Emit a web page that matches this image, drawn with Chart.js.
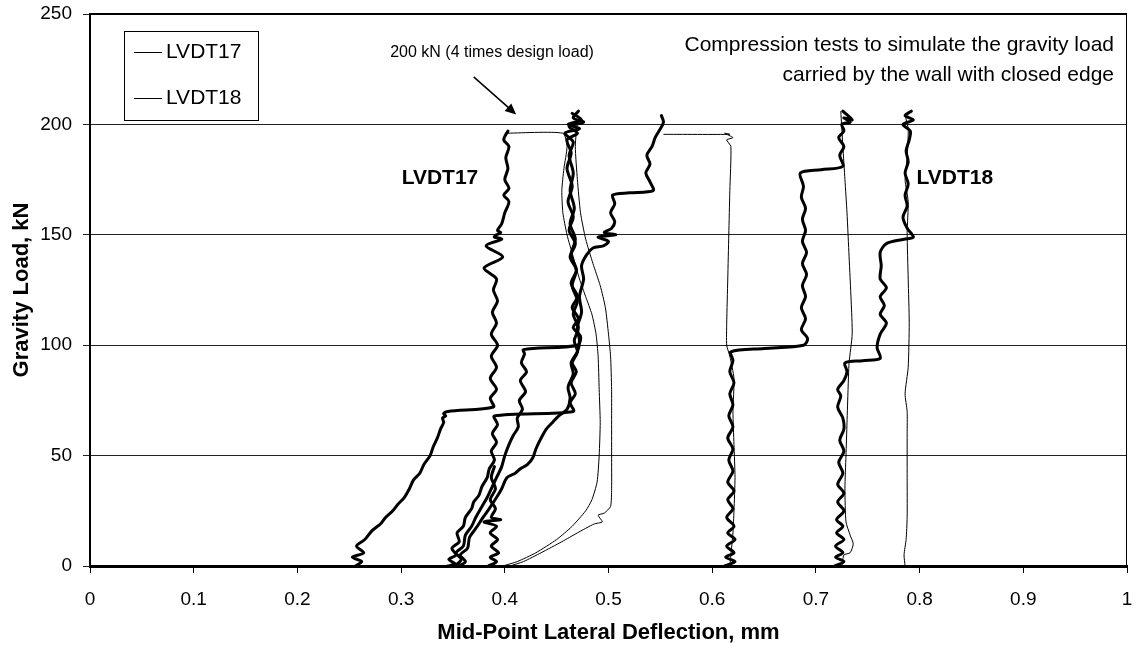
<!DOCTYPE html>
<html><head><meta charset="utf-8">
<script src="https://cdn.jsdelivr.net/npm/chart.js@4.4.1/dist/chart.umd.min.js"></script>
<style>html,body{margin:0;padding:0;background:#fff}</style>
</head><body>
<canvas id="c" width="1136" height="648"></canvas>
<script>
// ---------- axis / label data ----------
const xTickValues = [0,0.1,0.2,0.3,0.4,0.5,0.6,0.7,0.8,0.9,1];
const yTickValues = [0,50,100,150,200,250];
const seriesNames = ['LVDT17','LVDT18'];
const xTitle = 'Mid-Point Lateral Deflection, mm';
const yTitle = 'Gravity Load, kN';
const noteLines = ['Compression tests to simulate the gravity load','carried by the wall with closed edge'];
const arrowNote = '200 kN (4 times design load)';

// ---------- LVDT17 (thick) curves: deflection (mm) / load (kN) ----------
const t1x = [0.256,0.262,0.253,0.264,0.257,0.265,0.272,0.280,0.285,0.292,0.297,0.303,0.308,0.312,0.318,0.322,0.328,0.331,0.335,0.338,0.341,0.340,0.343,0.341,0.345,0.389,0.386,0.392,0.386,0.392,0.387,0.393,0.387,0.392,0.388,0.393,0.389,0.392,0.380,0.398,0.382,0.397,0.390,0.392,0.396,0.393,0.397,0.400,0.404,0.399,0.404,0.400,0.403,0.401,0.404,0.399,0.403];
const t1y = [0,2,4,6,9,12,16,19,22,25,28,31,35,39,42,46,50,54,58,62,65,67,68,69,70,72,76,80,85,90,95,100,105,110,115,120,125,130,135,140,145,148,149,150,151,152,155,160,165,168,171,175,180,185,190,193,197,200,202,204];
const t2x = [0.345,0.352,0.346,0.353,0.349,0.356,0.354,0.360,0.362,0.368,0.370,0.375,0.378,0.383,0.385,0.390,0.387,0.392,0.388,0.393,0.390,0.466,0.463,0.468,0.464,0.469,0.465,0.470,0.467,0.471,0.466,0.470,0.465,0.469,0.464,0.468,0.463,0.467,0.463,0.466,0.462,0.466,0.458,0.472,0.461,0.474,0.465];
const t2y = [0,1,3,5,8,11,15,18,22,26,29,32,36,40,44,48,52,56,60,64,68,70,74,78,83,88,92,97,102,108,114,120,127,134,141,148,155,162,170,178,186,192,196,198,200,202,205];
const t3x = [0.356,0.362,0.357,0.364,0.366,0.372,0.379,0.385,0.392,0.397,0.402,0.410,0.415,0.422,0.427,0.430,0.434,0.440,0.446,0.452,0.460,0.463,0.461,0.466,0.464,0.470,0.472,0.470,0.474,0.472,0.476,0.474,0.479,0.485,0.495,0.500,0.490,0.507,0.496,0.503,0.506,0.502,0.506,0.504,0.520,0.543,0.540,0.536,0.540,0.537,0.542,0.545,0.550,0.553,0.551];
const t3y = [0,2,5,8,13,17,22,26,31,35,40,42,44,46,49,53,57,62,65,68,71,76,81,87,92,97,102,108,115,122,130,136,141,144,145,147,149,150,151,153,156,160,164,168,169,170,174,178,182,186,190,194,198,201,204];
const t4x = [0.352,0.358,0.353,0.360,0.362,0.368,0.372,0.378,0.383,0.388,0.392,0.397,0.400,0.404,0.408,0.413,0.412,0.417,0.414,0.420,0.415,0.421,0.416,0.419,0.418,0.470,0.473,0.466,0.471,0.465,0.470,0.464,0.469,0.463,0.468,0.462,0.466,0.461,0.465,0.460,0.464,0.460,0.470,0.462,0.476,0.466,0.471];
const t4y = [0,3,6,9,14,18,22,27,31,36,40,45,50,55,59,63,67,71,75,79,84,88,92,96,98,100,104,108,112,117,122,128,134,140,146,152,158,165,172,180,187,193,196,199,201,203,206];
const t5x = [0.384,0.392,0.386,0.394,0.387,0.393,0.386,0.392,0.380,0.396,0.387,0.391,0.386,0.391,0.387,0.390];
const t5y = [0,2,4,6,9,12,15,18,20,21,22,26,30,35,40,45];
const t6x = [0.612,0.622,0.613,0.621,0.614,0.622,0.615,0.621,0.614,0.620,0.615,0.621,0.615,0.620,0.616,0.620,0.615,0.620,0.616,0.620,0.617,0.621,0.617,0.620,0.618,0.650,0.688,0.692,0.686,0.690,0.686,0.690,0.687,0.691,0.687,0.691,0.687,0.690,0.687,0.690,0.686,0.688,0.685,0.705,0.726,0.723,0.727,0.722,0.727,0.725,0.733,0.727,0.735,0.726];
const t6y = [0,2,4,6,9,12,15,18,22,26,30,34,38,43,48,53,58,63,68,73,78,83,88,93,97,98.5,100,103,107,112,117,122,127,132,137,142,147,152,157,162,167,172,178,179.5,181,186,190,194,197,200,201,203,202,206];
const t7x = [0.718,0.727,0.719,0.726,0.719,0.727,0.720,0.726,0.720,0.727,0.721,0.727,0.721,0.726,0.722,0.727,0.723,0.727,0.726,0.721,0.724,0.721,0.727,0.730,0.728,0.745,0.762,0.759,0.762,0.768,0.762,0.766,0.762,0.768,0.762,0.763,0.762,0.768,0.785,0.794,0.788,0.784,0.788,0.786,0.789,0.786,0.789,0.787,0.790,0.791,0.784,0.794,0.786,0.792];
const t7y = [0,2,4,6,9,12,15,18,21,25,29,33,37,42,47,52,57,62,67,72,77,80,84,88,92,93,94,99,105,110,114,118,122,126,130,136,142,146,148,149,153,158,163,168,173,178,183,188,193,197,200,202,204,206];

// ---------- LVDT18 (thin) curves ----------
const s1x = [0.400,0.456,0.460,0.457,0.455,0.456,0.460,0.466,0.472,0.478,0.484,0.488,0.490,0.491,0.492,0.491,0.489,0.484,0.478,0.465,0.450,0.430,0.412,0.398];
const s1y = [196,196,190,180,170,160,150,140,130,122,114,105,95,80,65,50,38,30,25,18,12,6,2,0];
const s2x = [0.470,0.468,0.470,0.473,0.478,0.485,0.492,0.497,0.500,0.502,0.503,0.503,0.503,0.503,0.502,0.496,0.490,0.494,0.486,0.470,0.455,0.435,0.418,0.405];
const s2y = [202,190,175,160,148,137,127,117,105,95,80,68,50,35,27,24,23,20,19,15,11,6,2,0];
const s3x = [0.553,0.617,0.612,0.620,0.614,0.618,0.617,0.616,0.615,0.614,0.614,0.617,0.621,0.620,0.621,0.622,0.621,0.620,0.618,0.617];
const s3y = [195.5,195.5,196,194,193,190,170,150,130,110,100,95,85,70,55,40,25,15,5,0];
const s4x = [0.724,0.726,0.728,0.730,0.732,0.734,0.735,0.732,0.731,0.730,0.729,0.728,0.729,0.733,0.736,0.733,0.727,0.725];
const s4y = [206,190,175,160,140,120,105,92,80,65,50,35,20,14,10,6,5,0];
const s5x = [0.786,0.789,0.788,0.786,0.789,0.788,0.789,0.790,0.789,0.786,0.788,0.788,0.788,0.788,0.787,0.785,0.786];
const s5y = [204,198,185,175,165,151,130,110,90,78,70,60,40,22,12,5,0];

const thick = [[t1x,t1y],[t2x,t2y],[t3x,t3y],[t4x,t4y],[t5x,t5y],[t6x,t6y],[t7x,t7y]];
const thin = [[s1x,s1y],[s2x,s2y],[s3x,s3y],[s4x,s4y],[s5x,s5y]];

const toPts = (xs, ys) => xs.map((v, i) => ({x: v, y: ys[i]}));
const datasets = [];
thick.forEach((c, i) => datasets.push({label: i === 0 ? seriesNames[0] : '', data: toPts(c[0], c[1]), borderColor: '#000', borderWidth: 3, pointRadius: 0, tension: 0.3, borderJoinStyle: 'round', borderCapStyle: 'round', fill: false}));
thin.forEach((c, i) => datasets.push({label: i === 0 ? seriesNames[1] : '', data: toPts(c[0], c[1]), borderColor: '#000', borderWidth: 1, pointRadius: 0, tension: 0.2, fill: false}));

const FONT = '"Liberation Sans", Arial, sans-serif';

const decor = {
  id: 'decor',
  afterDraw(chart) {
    const {ctx, chartArea: ca, scales: {x, y}} = chart;
    ctx.save();
    ctx.strokeStyle = '#000';
    ctx.lineWidth = 2;
    ctx.beginPath(); ctx.moveTo(ca.left, ca.top); ctx.lineTo(ca.right, ca.top); ctx.stroke();
    ctx.lineWidth = 1;
    ctx.beginPath(); ctx.moveTo(ca.right - 0.5, ca.top); ctx.lineTo(ca.right - 0.5, ca.bottom); ctx.stroke();
    // legend box
    const lx = 124, ly = 31, lw = 134, lh = 89;
    ctx.fillStyle = '#fff';
    ctx.fillRect(lx, ly, lw, lh);
    ctx.strokeRect(lx + 0.5, ly + 0.5, lw, lh);
    ctx.font = '21px ' + FONT;
    ctx.fillStyle = '#000';
    ctx.textBaseline = 'middle';
    ctx.textAlign = 'left';
    const rows = [52, 98];
    [datasets[0].label, datasets[thick.length].label].forEach((t, i) => {
      ctx.beginPath(); ctx.moveTo(134, rows[i] + 0.5); ctx.lineTo(162, rows[i] + 0.5); ctx.stroke();
      ctx.fillText(t, 166, rows[i]);
    });
    // curve labels
    ctx.font = 'bold 21px ' + FONT;
    ctx.textAlign = 'center';
    ctx.fillText(seriesNames[0], x.getPixelForValue(0.3375), y.getPixelForValue(175.5));
    ctx.fillText(seriesNames[1], x.getPixelForValue(0.834), y.getPixelForValue(175.5));
    // note
    ctx.font = '21px ' + FONT;
    ctx.textAlign = 'right';
    ctx.fillText(noteLines[0], x.getPixelForValue(0.9875), y.getPixelForValue(235.7));
    ctx.fillText(noteLines[1], x.getPixelForValue(0.9875), y.getPixelForValue(222.3));
    // arrow note
    ctx.font = '16px ' + FONT;
    ctx.textAlign = 'center';
    ctx.fillText(arrowNote, x.getPixelForValue(0.3877), y.getPixelForValue(232.5));
    const x0 = x.getPixelForValue(0.370), y0 = y.getPixelForValue(221.5);
    const x1 = x.getPixelForValue(0.411), y1 = y.getPixelForValue(204.5);
    const ang = Math.atan2(y1 - y0, x1 - x0);
    ctx.lineWidth = 1.5;
    ctx.beginPath(); ctx.moveTo(x0, y0); ctx.lineTo(x1 - 8 * Math.cos(ang), y1 - 8 * Math.sin(ang)); ctx.stroke();
    ctx.beginPath();
    ctx.moveTo(x1, y1);
    ctx.lineTo(x1 - 11 * Math.cos(ang) + 5 * Math.sin(ang), y1 - 11 * Math.sin(ang) - 5 * Math.cos(ang));
    ctx.lineTo(x1 - 11 * Math.cos(ang) - 5 * Math.sin(ang), y1 - 11 * Math.sin(ang) + 5 * Math.cos(ang));
    ctx.closePath(); ctx.fill();
    ctx.restore();
  }
};

new Chart(document.getElementById('c'), {
  type: 'line',
  data: {datasets},
  options: {
    responsive: false,
    animation: false,
    devicePixelRatio: 1,
    layout: {padding: {top: 14, right: 9, left: 0, bottom: 0}},
    plugins: {legend: {display: false}, tooltip: {enabled: false}},
    scales: {
      x: {
        type: 'linear', min: 0, max: 1,
        afterBuildTicks: s => { s.ticks = xTickValues.map(v => ({value: v})); },
        afterFit: s => { s.height = 82; s.paddingLeft = 0; s.paddingRight = 0; },
        ticks: {color: '#000', font: {family: FONT, size: 19}, padding: 15, maxRotation: 0,
          callback: v => (v === 0 || v === 1) ? String(v) : v.toFixed(1)},
        grid: {drawOnChartArea: false, drawTicks: true, tickLength: 7, color: '#000', lineWidth: 1},
        border: {color: '#000', width: 3},
        title: {display: true, text: xTitle, color: '#000', font: {family: FONT, size: 22, weight: 'bold'}, padding: {top: 0, bottom: 2}}
      },
      y: {
        type: 'linear', min: 0, max: 250,
        afterBuildTicks: s => { s.ticks = yTickValues.map(v => ({value: v})); },
        afterFit: s => { s.width = 90; s.paddingTop = 0; s.paddingBottom = 0; },
        ticks: {color: '#000', font: {family: FONT, size: 19}, padding: 11},
        grid: {color: '#222', lineWidth: 1, tickLength: 7},
        border: {color: '#000', width: 2},
        title: {display: true, text: yTitle, color: '#000', font: {family: FONT, size: 22, weight: 'bold'}, padding: {top: 9, bottom: 0}}
      }
    }
  },
  plugins: [decor]
});
</script>
</body></html>
